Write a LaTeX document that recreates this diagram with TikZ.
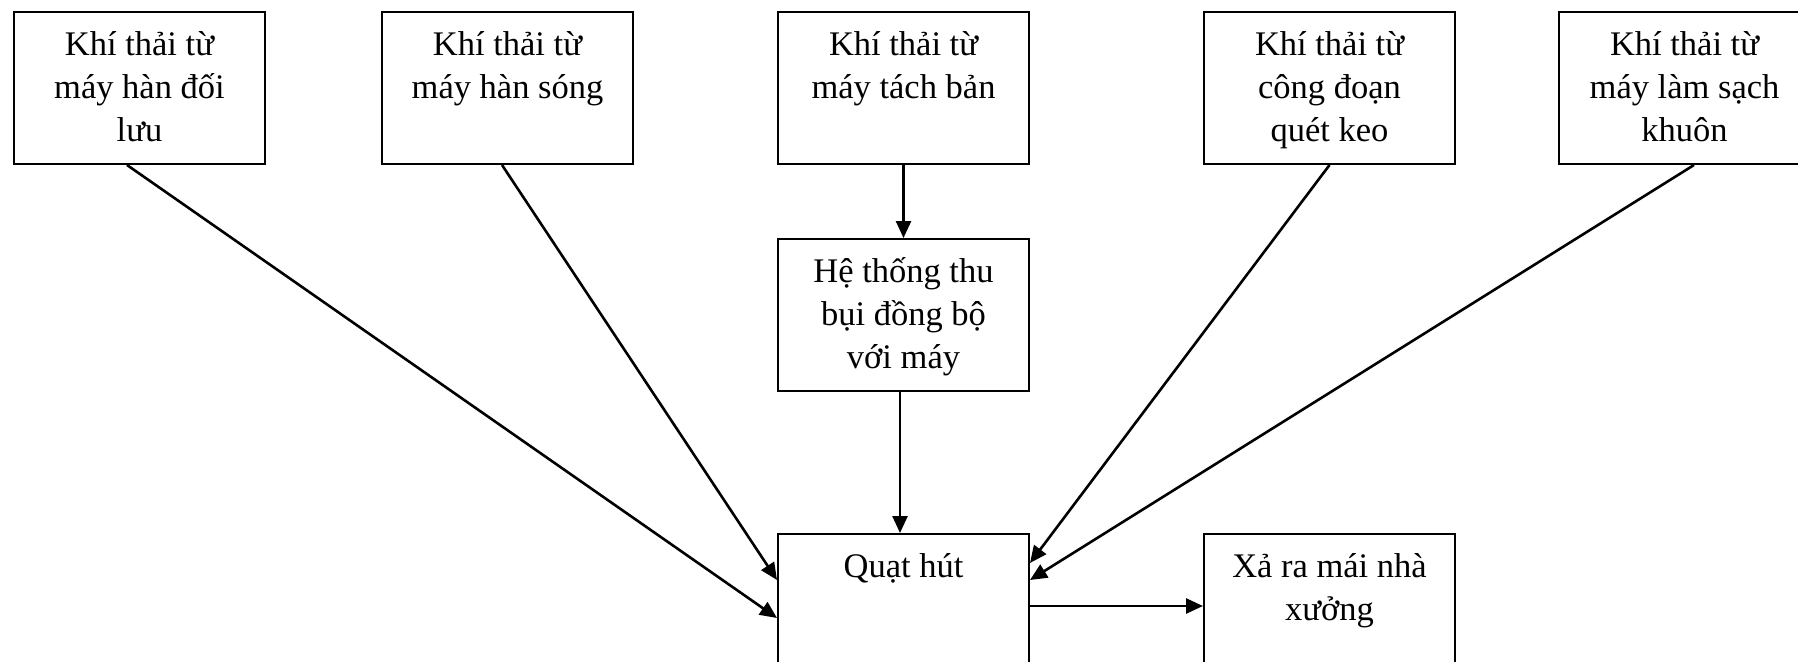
\documentclass[tikz,border=0pt]{standalone}
\usepackage{fontspec}
\setmainfont{Liberation Serif}
\usetikzlibrary{arrows.meta}
% box body: fixed size, lines set from the top
\newcommand{\blktext}[2]{\parbox[c][#1][t]{251pt}{\centering\vspace*{13pt}\strut#2\par}}
\tikzset{
  blk/.style={draw, line width=2pt, inner sep=0pt, anchor=north west,
    font=\fontsize{34.5pt}{43pt}\selectfont},
  link/.style={line width=2.6pt, -{Triangle[length=17pt,width=15pt]}},
}
\begin{document}
\begin{tikzpicture}[x=1pt,y=-1pt]
  \fill[white] (0,0) rectangle (1798,661);
  \clip (0,0) rectangle (1798,661);
  % sources
  \node[blk] (b1) at (13,11)   {\blktext{152pt}{Khí thải từ\\máy hàn đối\\lưu}};
  \node[blk] (b2) at (381,11)  {\blktext{152pt}{Khí thải từ\\máy hàn sóng}};
  \node[blk] (b3) at (777,11)  {\blktext{152pt}{Khí thải từ\\máy tách bản}};
  \node[blk] (b4) at (1203,11) {\blktext{152pt}{Khí thải từ\\công đoạn\\quét keo}};
  \node[blk] (b5) at (1558,11) {\blktext{152pt}{Khí thải từ\\máy làm sạch\\khuôn}};
  % treatment, fan, outlet
  \node[blk] (ht) at (777,238) {\blktext{152pt}{Hệ thống thu\\bụi đồng bộ\\với máy}};
  \node[blk] (q)  at (777,533) {\blktext{152pt}{Quạt hút}};
  \node[blk] (xa) at (1203,533){\blktext{152pt}{Xả ra mái nhà\\xưởng}};
  % flows
  \draw[link] ([xshift=-12.5pt]b1.south) -- ([yshift=-85pt]q.north west);
  \draw[link] ([xshift=-5.5pt]b2.south) -- ([yshift=-47pt]q.north west);
  \draw[link] (b3.south) -- (ht.north);
  \draw[link] ([xshift=-3.5pt]ht.south) -- ([xshift=-3.5pt]q.north);
  \draw[link] (b4.south) -- ([yshift=-30pt]q.north east);
  \draw[link] ([xshift=9.5pt]b5.south) -- ([yshift=-47pt]q.north east);
  \draw[link] ([yshift=-73pt]q.north east) -- ([yshift=-73pt]xa.north west);
\end{tikzpicture}
\end{document}
